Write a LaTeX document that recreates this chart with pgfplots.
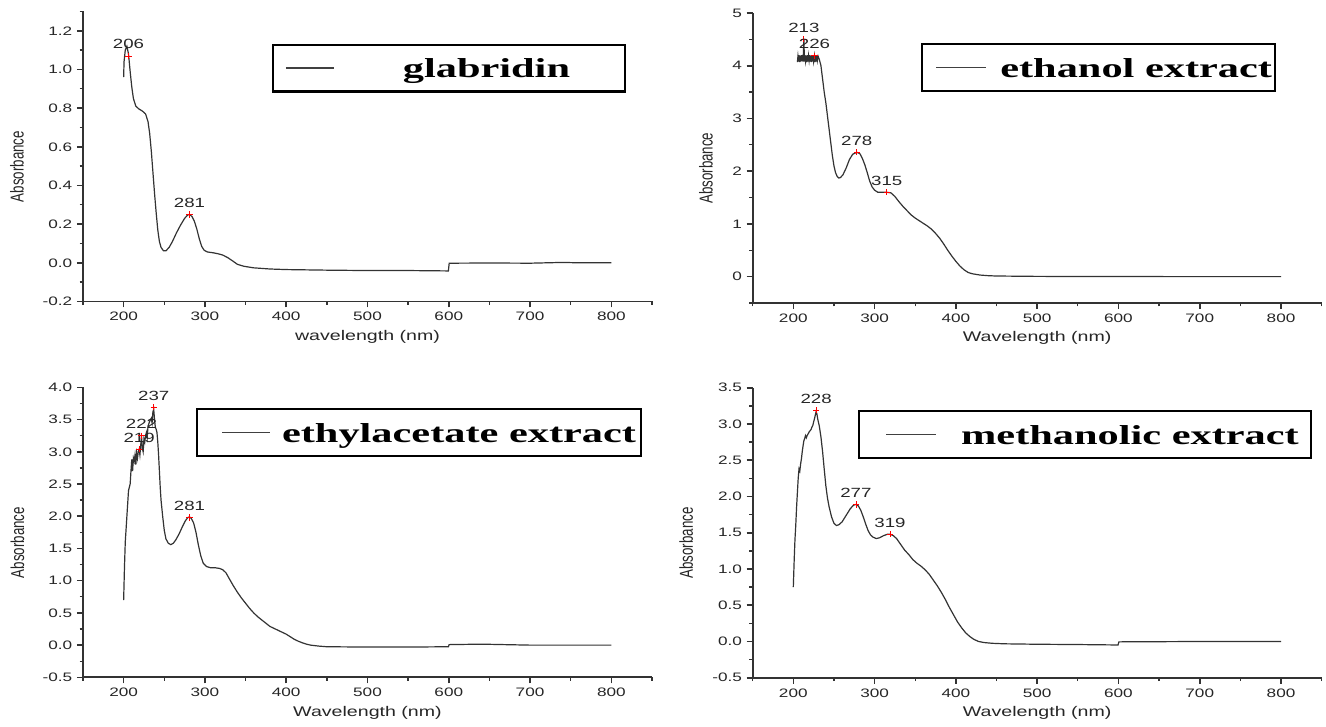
\documentclass[border=0pt]{standalone}
\usepackage{fontspec}
\setmainfont{Liberation Sans}[FakeStretch=1.4]
\newfontfamily\ylfont{Liberation Sans}
\newfontfamily\legfont{Liberation Serif}[FakeStretch=1.55]
\usepackage{pgfplots}
\usepackage{pgfplotstable}
\pgfplotsset{compat=1.18}

\pgfplotstableread{
x y
200 0.96
200.5 1.04
202 1.10
204 1.12
206 1.08
208 0.99
210 0.91
212 0.85
215 0.81
219 0.795
223 0.785
227 0.77
230 0.73
232 0.67
234 0.58
236 0.47
238 0.36
240 0.26
242 0.17
244 0.11
246 0.08
249 0.062
252 0.062
256 0.08
260 0.11
265 0.155
270 0.195
275 0.23
279 0.248
281 0.25
284 0.24
287 0.215
290 0.175
293 0.125
296 0.085
299 0.065
303 0.056
310 0.052
316 0.047
322 0.04
328 0.027
334 0.01
340 -0.008
348 -0.018
360 -0.026
380 -0.032
400 -0.035
450 -0.038
500 -0.04
550 -0.04
599.5 -0.042
600.5 -0.002
650 -0.001
700 -0.002
740 0.002
760 0.0
800 0.0
}\glab

\pgfplotstableread{
x y
205 4.07
205.7 4.18
206.4 4.08
207.1 4.2
207.8 4.07
208.5 4.19
209.2 4.08
209.9 4.2
210.6 4.09
211.3 4.2
212 4.08
213 4.5
213.7 4.08
214.4 4.2
215.1 4.09
215.8 4.19
216.5 4.07
217.2 4.2
218 4.08
218.7 4.19
219.4 4.1
220.1 4.2
220.8 4.08
221.5 4.19
222.2 4.07
222.9 4.2
223.6 4.08
224.3 4.19
225 4.08
226 4.19
226.8 4.07
227.5 4.2
228.2 4.08
228.9 4.2
229.6 4.1
230.5 4.18
232 4.12
234 4.0
236 3.75
238 3.5
240 3.3
242 3.05
244 2.8
246 2.55
248 2.3
250 2.1
252 1.97
254 1.9
256 1.87
258 1.88
261 1.93
265 2.06
269 2.22
273 2.32
278 2.36
282 2.33
285 2.24
288 2.12
291 1.97
294 1.81
297 1.7
300 1.64
304 1.6
310 1.6
315 1.6
320 1.59
325 1.52
330 1.42
335 1.33
340 1.25
345 1.17
350 1.11
355 1.06
360 1.01
365 0.96
370 0.9
375 0.82
380 0.73
385 0.62
390 0.5
395 0.39
400 0.29
405 0.2
410 0.13
415 0.08
420 0.055
430 0.03
440 0.018
450 0.012
500 0.005
600 0.002
700 0.0
800 0.0
}\ethanol

\pgfplotstableread{
x y
200 0.70
201 1.2
202 1.6
203 1.8
204 2.0
205 2.2
206 2.4
207 2.45
208 2.5
209 2.7
210 2.88
211 2.7
212 2.9
213 2.85
214 2.95
215 2.8
216 2.98
217 2.9
218 3.0
219 3.04
220 2.95
221 3.1
222 3.25
223 3.05
224 3.0
225 3.2
226 3.15
227 3.25
228 3.3
229 3.22
230 3.4
232 3.47
234 3.52
235 3.45
236 3.62
237 3.66
238 3.5
239 3.38
240 3.35
241 3.3
242 3.15
243 2.95
244 2.7
245 2.45
246 2.25
248 2.0
250 1.78
252 1.65
255 1.58
258 1.56
261 1.58
264 1.63
268 1.72
272 1.83
276 1.93
279 1.98
281 1.99
283 1.97
286 1.9
289 1.75
292 1.55
295 1.38
298 1.27
302 1.22
307 1.2
313 1.2
318 1.19
322 1.17
326 1.12
330 1.03
335 0.92
340 0.82
345 0.73
350 0.65
355 0.57
360 0.5
365 0.44
370 0.39
375 0.34
380 0.29
385 0.26
390 0.23
395 0.2
400 0.17
405 0.13
410 0.09
415 0.06
420 0.035
425 0.015
430 0.0
440 -0.015
450 -0.025
500 -0.03
550 -0.03
599.5 -0.025
600.5 0.008
640 0.015
680 0.005
700 0.0
800 0.0
}\ethyl

\pgfplotstableread{
x y
200 0.75
201 1.1
202 1.4
203 1.6
204 1.85
205 2.05
206 2.25
207 2.38
208 2.35
209 2.45
210 2.52
211 2.62
212 2.7
213 2.77
214 2.8
215 2.84
216 2.81
217 2.84
218 2.86
219 2.88
220 2.9
221 2.91
222 2.93
223 2.96
224 2.98
225 3.03
226 3.07
227 3.12
228 3.17
229 3.14
230 3.07
232 2.97
234 2.82
236 2.62
238 2.38
240 2.15
242 1.98
244 1.86
247 1.72
250 1.63
253 1.6
256 1.61
260 1.65
265 1.74
270 1.83
274 1.88
277 1.89
280 1.87
283 1.81
286 1.72
289 1.62
292 1.53
295 1.47
298 1.44
302 1.42
306 1.43
311 1.46
316 1.48
319 1.48
323 1.46
327 1.42
332 1.34
337 1.26
342 1.2
347 1.13
352 1.08
357 1.04
362 0.99
367 0.93
372 0.85
377 0.77
382 0.68
387 0.58
392 0.47
397 0.37
402 0.27
407 0.19
412 0.12
417 0.07
422 0.03
428 0.0
435 -0.015
445 -0.025
460 -0.032
500 -0.038
550 -0.042
599.5 -0.048
600.5 -0.005
700 0.0
800 0.0
}\methanol

\pgfplotstableread{
x y label
206 1.07 206
281 0.25 281
}\glabpk
\pgfplotstableread{
x y label
213 4.5 213
226 4.19 226
278 2.36 278
315 1.60 315
}\ethanolpk
\pgfplotstableread{
x y label
219 3.04 219
222 3.25 222
237 3.69 237
281 1.98 281
}\ethylpk
\pgfplotstableread{
x y label
228 3.19 228
277 1.89 277
319 1.48 319
}\methanolpk

\pgfplotsset{
  spec/.style={
    scale only axis, width=426.75pt, height=217.5pt,
    xmin=150, xmax=850,
    axis x line*=bottom, axis y line*=left,
    axis line style={-, line width=1.4pt, black!80},
    tick align=outside,
    major tick length=4.5pt, minor tick length=2.6pt,
    major tick style={line width=1.2pt, black!80},
    minor tick style={line width=1.0pt, black!80},
    xtick={200,300,400,500,600,700,800},
    minor xtick={150,250,350,450,550,650,750,850},
    tick label style={font=\fontsize{9.2}{10}\selectfont, text=black!85},
    /pgf/number format/assume math mode=true,
    xlabel style={font=\fontsize{10.5}{12}\selectfont, text=black!85, at={(axis description cs:0.5,-0.121)}, anchor=center},
    ylabel style={font=\ylfont\fontsize{10}{11}\selectfont, text=black!85, anchor=center},
    ylabel={\scalebox{1}[1.4]{Absorbance}},
    legend style={anchor=north west, draw=black, line width=1.6pt, fill=white,
      inner sep=0pt, nodes={inner sep=0pt, text depth=0pt}, column sep=0pt,
      font=\legfont\bfseries\fontsize{20.5}{22}\selectfont},
  },
  curve/.style={black!80, line width=0.9pt, no marks},
  peaks/.style={forget plot, only marks, mark=+, mark size=2.3pt, red,
    mark options={line width=0.6pt},
    nodes near coords, point meta=explicit symbolic,
    every node near coord/.append style={text=black!85, font=\fontsize{10}{12}\selectfont,
      anchor=south, inner sep=1pt, yshift=4pt}},
}

\begin{document}
\begin{tikzpicture}
\useasboundingbox (0,0) rectangle (994.5pt,-544.5pt);

% Panel 1: glabridin
\begin{axis}[spec, at={(62.25pt,-226.1pt)}, anchor=south west,
  ymin=-0.2, ymax=1.3,
  ytick={-0.2,0,0.2,0.4,0.6,0.8,1.0,1.2},
  minor ytick={-0.1,0.1,0.3,0.5,0.7,0.9,1.1,1.3},
  yticklabel style={/pgf/number format/.cd, fixed, fixed zerofill, precision=1},
  xlabel={wavelength (nm)},
  ylabel style={at={(axis description cs:-0.116,0.465)}},
  legend style={at={(0.332,0.8895)}},
  legend image code/.code={\draw[black!75, line width=1.3pt] (9.75pt,0pt) -- (45.75pt,0pt); \path[draw=none,fill=none] (0pt,-17.6pt) rectangle (56.25pt,17.6pt);},
]
\addplot[curve] table[x=x,y=y] {\glab};
\addlegendentry{\makebox[207.75pt][c]{glabridin}}
\addplot[peaks] table[x=x,y=y,meta=label] {\glabpk};
\end{axis}

% Panel 2: ethanol extract
\begin{axis}[spec, at={(564.5pt,-227.25pt)}, anchor=south west,
  ymin=-0.5, ymax=5,
  ytick={0,1,2,3,4,5},
  minor ytick={-0.5,0.5,1.5,2.5,3.5,4.5},
  xlabel={Wavelength (nm)},
  ylabel style={at={(axis description cs:-0.082,0.465)}},
  legend style={at={(0.296,0.8966)}},
  legend image code/.code={\draw[black!75, line width=1.3pt] (10.5pt,0pt) -- (48pt,0pt); \path[draw=none,fill=none] (0pt,-17.6pt) rectangle (56.25pt,17.6pt);},
]
\addplot[curve] table[x=x,y=y] {\ethanol};
\addlegendentry{\makebox[208.5pt][c]{ethanol extract}}
\addplot[peaks] table[x=x,y=y,meta=label] {\ethanolpk};
\end{axis}

% Panel 3: ethylacetate extract
\begin{axis}[spec, at={(62.25pt,-508pt)}, anchor=south west,
  ymin=-0.5, ymax=4,
  ytick={-0.5,0,0.5,1,1.5,2,2.5,3,3.5,4},
  minor ytick={-0.25,0.25,0.75,1.25,1.75,2.25,2.75,3.25,3.75},
  yticklabel style={/pgf/number format/.cd, fixed, fixed zerofill, precision=1},
  xlabel={Wavelength (nm)},
  ylabel style={at={(axis description cs:-0.115,0.465)}},
  legend style={at={(0.1986,0.9286)}},
  legend image code/.code={\draw[black!75, line width=1.3pt] (18.75pt,0pt) -- (54.75pt,0pt); \path[draw=none,fill=none] (0pt,-17.6pt) rectangle (60pt,17.6pt);},
]
\addplot[curve] table[x=x,y=y] {\ethyl};
\addlegendentry{\makebox[273pt][c]{ethylacetate extract}}
\addplot[peaks] table[x=x,y=y,meta=label] {\ethylpk};
\end{axis}

% Panel 4: methanolic extract
\begin{axis}[spec, at={(564.5pt,-508.3pt)}, anchor=south west,
  ymin=-0.5, ymax=3.5,
  ytick={-0.5,0,0.5,1,1.5,2,2.5,3,3.5},
  minor ytick={-0.25,0.25,0.75,1.25,1.75,2.25,2.75,3.25},
  yticklabel style={/pgf/number format/.cd, fixed, fixed zerofill, precision=1},
  xlabel={Wavelength (nm)},
  ylabel style={at={(axis description cs:-0.117,0.465)}},
  legend style={at={(0.185,0.923)}},
  legend image code/.code={\draw[black!75, line width=1.3pt] (20.25pt,0pt) -- (57.75pt,0pt); \path[draw=none,fill=none] (0pt,-17.6pt) rectangle (67.5pt,17.6pt);},
]
\addplot[curve] table[x=x,y=y] {\methanol};
\addlegendentry{\makebox[271.5pt][c]{methanolic extract}}
\addplot[peaks] table[x=x,y=y,meta=label] {\methanolpk};
\end{axis}
\end{tikzpicture}
\end{document}
